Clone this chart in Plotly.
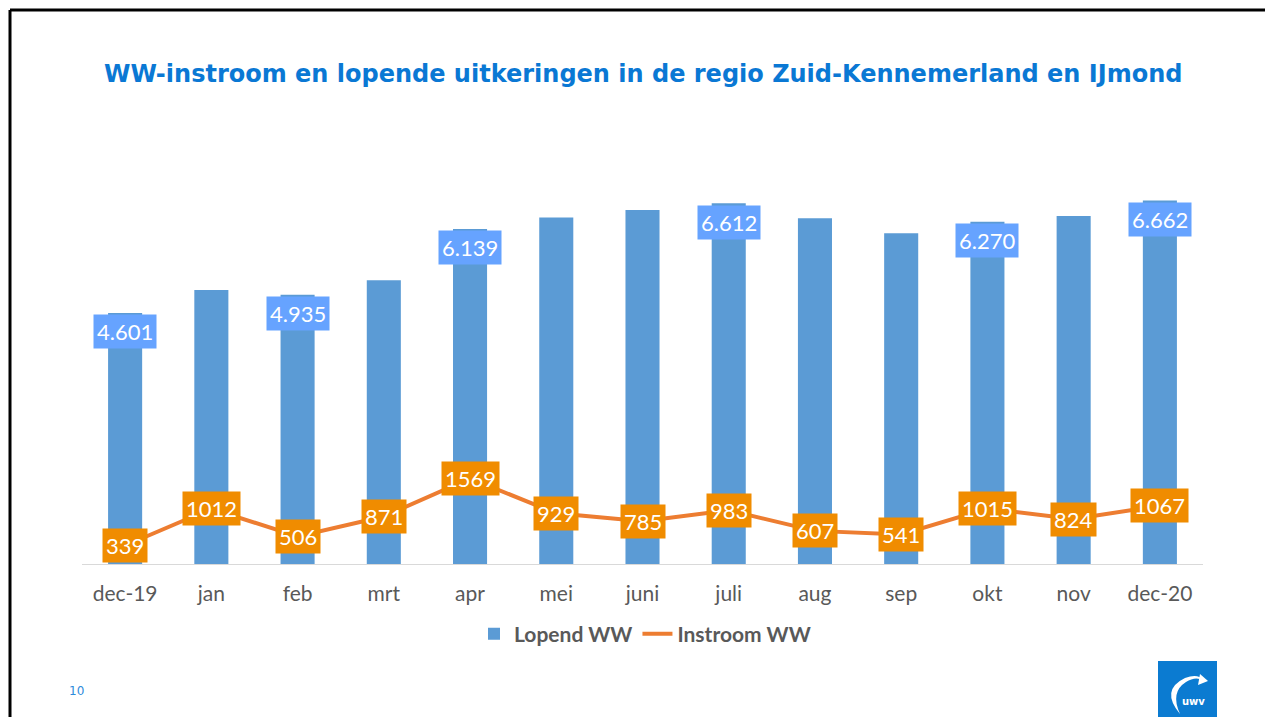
import plotly.graph_objects as go

# ---- data ----
months = ["dec-19", "jan", "feb", "mrt", "apr", "mei", "juni", "juli", "aug", "sep", "okt", "nov", "dec-20"]
lopend_ww = [4601, 5020, 4935, 5200, 6139, 6350, 6485, 6612, 6335, 6060, 6270, 6375, 6662]
instroom_ww = [339, 1012, 506, 871, 1569, 929, 785, 983, 607, 541, 1015, 824, 1067]
labelled_bars = ["dec-19", "feb", "apr", "juli", "okt", "dec-20"]

title_text = "WW-instroom en lopende uitkeringen in de regio Zuid-Kennemerland en IJmond"
page_no = "10"

W, H = 1265, 717
L, R, T, B = 82, 62, 182, 153
YMAX = 7000

def px(x):
    return (x - L) / (W - L - R)

def py(y):
    return (H - B - y) / (H - T - B)

BAR_C = "#5B9BD5"
BAR_LBL = "#66A3FF"
LINE_C = "#ED7D31"
LINE_LBL = "#F08C00"
GRAY = "#595959"

fig = go.Figure()
fig.add_trace(go.Bar(x=months, y=lopend_ww, name="Lopend WW", marker_color=BAR_C,
                     marker_line_width=0))
fig.add_trace(go.Scatter(x=months, y=instroom_ww, name="Instroom WW", mode="lines",
                         line=dict(color=LINE_C, width=4)))

ann = []
for m, v in zip(months, lopend_ww):
    if m in labelled_bars:
        ann.append(dict(x=m, y=v, xref="x", yref="y", text=f"{v/1000:.3f}",
                        showarrow=False, yshift=-19, bgcolor=BAR_LBL, borderpad=3,
                        font=dict(family="Lato, Open Sans, sans-serif", size=22, color="white")))
for m, v in zip(months, instroom_ww):
    ann.append(dict(x=m, y=v, xref="x", yref="y", text=str(v), showarrow=False,
                    bgcolor=LINE_LBL, borderpad=3,
                    font=dict(family="Lato, Open Sans, sans-serif", size=22, color="white")))

# title
ann.append(dict(x=px(643), y=py(74), xref="paper", yref="paper", text=f"<b>{title_text}</b>",
                showarrow=False, xanchor="center", yanchor="middle",
                font=dict(family="DejaVu Sans, Verdana, sans-serif", size=24, color="#0A78D4")))
# page number
ann.append(dict(x=px(76), y=py(691), xref="paper", yref="paper", text=page_no,
                showarrow=False, xanchor="center", yanchor="middle",
                font=dict(family="DejaVu Sans, sans-serif", size=12, color="#2E8BDB")))
# logo text
ann.append(dict(x=px(1193), y=py(701), xref="paper", yref="paper", text="<b>uwv</b>",
                showarrow=False, xanchor="center", yanchor="middle",
                font=dict(family="DejaVu Sans, sans-serif", size=10, color="white")))

shapes = [
    # slide border (top and left)
    dict(type="line", xref="paper", yref="paper", x0=px(10), y0=py(10), x1=px(W + 5), y1=py(10),
         line=dict(color="black", width=3)),
    dict(type="line", xref="paper", yref="paper", x0=px(10), y0=py(10), x1=px(10), y1=py(H + 5),
         line=dict(color="black", width=3)),
    # logo square
    dict(type="rect", xref="paper", yref="paper", x0=px(1158), y0=py(661), x1=px(1217), y1=py(H + 3),
         fillcolor="#0B7BD1", line=dict(width=0)),
    # logo swoosh
    dict(type="path", xref="paper", yref="paper",
         path=f"M {px(1180)},{py(714)} Q {px(1160)},{py(690)} {px(1185)},{py(678)} "
              f"Q {px(1198)},{py(673)} {px(1203)},{py(680)} "
              f"Q {px(1195)},{py(676)} {px(1186)},{py(682)} "
              f"Q {px(1170)},{py(692)} {px(1180)},{py(714)} Z",
         fillcolor="white", line=dict(width=0)),
    dict(type="path", xref="paper", yref="paper",
         path=f"M {px(1200)},{py(674)} L {px(1208)},{py(681)} L {px(1198)},{py(685)} Z",
         fillcolor="white", line=dict(width=0)),
]

fig.update_layout(
    width=W, height=H, autosize=False,
    margin=dict(l=L, r=R, t=T, b=B, pad=0),
    paper_bgcolor="white", plot_bgcolor="white",
    bargap=0.605,
    showlegend=True,
    legend=dict(orientation="h", x=px(645), xanchor="center", y=py(634), yanchor="middle",
                font=dict(family="Lato, Open Sans, sans-serif", size=21, color=GRAY, weight="bold"),
                itemwidth=30, tracegroupgap=0, bgcolor="rgba(0,0,0,0)"),
    xaxis=dict(type="category", showline=True, linecolor="#D9D9D9", linewidth=1,
               ticks="", showgrid=False, zeroline=False,
               tickfont=dict(family="Lato, Open Sans, sans-serif", size=21, color=GRAY),
               ticklabelstandoff=11),
    yaxis=dict(range=[0, YMAX], visible=False, showgrid=False, zeroline=False),
    annotations=ann,
    shapes=shapes,
)

fig.write_html("out.html", config={"displayModeBar": False},
               post_script="document.body.style.margin='0';document.body.style.overflow='hidden';")
